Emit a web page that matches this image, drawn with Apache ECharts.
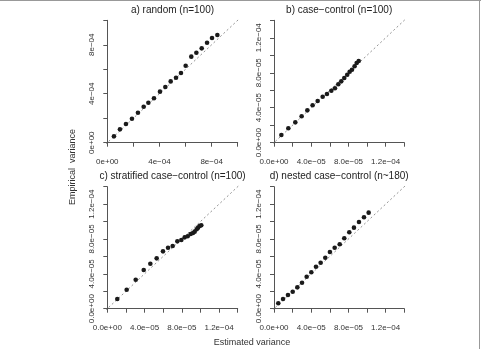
<!DOCTYPE html>
<html>
<head>
<meta charset="utf-8">
<script src="https://cdn.jsdelivr.net/npm/echarts@6/dist/echarts.min.js"></script>
<style>
html,body{margin:0;padding:0;background:#fff;}
#main{width:481px;height:349px;}
</style>
</head>
<body>
<div id="main"></div>
<script>
// a) random -- values in units of 1e-4
var aEst = [0.51, 0.97, 1.43, 1.89, 2.35, 2.79, 3.15, 3.58, 4.04, 4.45, 4.86, 5.27, 5.65, 6.01, 6.44, 6.83, 7.24, 7.65, 8.03, 8.44];
var aEmp = [0.52, 1.09, 1.53, 1.96, 2.45, 2.94, 3.27, 3.63, 4.17, 4.55, 5.01, 5.31, 5.69, 6.29, 7.03, 7.35, 7.71, 8.17, 8.55, 8.80];
// b) case-control -- units of 1e-5
var bEst = [0.79, 1.54, 2.29, 2.97, 3.58, 4.15, 4.69, 5.23, 5.69, 6.16, 6.55, 6.91, 7.23, 7.55, 7.87, 8.13, 8.38, 8.66, 8.88, 9.10];
var bEmp = [0.88, 1.65, 2.33, 3.02, 3.70, 4.28, 4.77, 5.26, 5.57, 5.95, 6.22, 6.68, 7.02, 7.40, 7.78, 8.12, 8.35, 8.74, 9.12, 9.34];
// c) stratified case-control -- units of 1e-5
var cEst = [1.07, 2.08, 3.05, 3.91, 4.62, 5.30, 5.98, 6.52, 7.02, 7.52, 7.95, 8.31, 8.63, 8.95, 9.20, 9.38, 9.60, 9.74, 9.92, 10.09];
var cEmp = [1.11, 2.18, 3.33, 4.44, 5.16, 5.78, 6.58, 7.00, 7.20, 7.73, 7.88, 8.19, 8.31, 8.57, 8.69, 8.84, 9.11, 9.30, 9.49, 9.57];
// d) nested case-control -- units of 1e-5
var dEst = [0.46, 0.97, 1.50, 2.01, 2.51, 3.01, 3.51, 4.01, 4.51, 5.01, 5.51, 6.01, 6.52, 7.06, 7.55, 8.09, 8.59, 9.13, 9.67, 10.17];
var dEmp = [0.62, 1.11, 1.57, 1.95, 2.45, 2.98, 3.67, 4.18, 4.82, 5.28, 5.85, 6.51, 7.00, 7.39, 8.08, 8.77, 9.30, 9.95, 10.49, 11.02];

var panelTitles = ['a) random (n=100)', 'b) case\u2212control (n=100)', 'c) stratified case\u2212control (n=100)', 'd) nested case\u2212control (n~180)'];

// tick labels
var bigTickVals = [0, 4, 8];
var bigTickText = ['0e+00', '4e\u221204', '8e\u221204'];
var smallTickVals = [0, 4, 8, 12];
var smallTickText = ['0.0e+00', '4.0e\u221205', '8.0e\u221205', '1.2e\u221204'];

var fontName = '"Liberation Sans", Arial, Helvetica, sans-serif';
var myChart = echarts.init(document.getElementById('main'));

var grids = [], xAxes = [], yAxes = [], series = [], titles = [];

function labelFn(vals, texts){
	return function(v){
		for(var i = 0; i < vals.length; i++){
			if(Math.abs(vals[i] - v) < 1e-6){
				return texts[i];
			}
		}
		return '';
	};
}

function addPanel(idx, pos, max, step, tickVals, tickText, est, emp){
	grids.push({left: pos[0], top: pos[1], width: pos[2], height: pos[3], containLabel: false});
	var axisCommon = {
		gridIndex: idx,
		type: 'value',
		min: 0,
		max: max,
		interval: step,
		splitLine: {show: false},
		axisLine: {show: true, lineStyle: {color: '#555', width: 1}},
		axisTick: {show: true, length: 4, lineStyle: {color: '#555', width: 1}},
		axisLabel: {
			fontSize: 8,
			color: '#333',
			fontFamily: fontName,
			showMinLabel: true,
			showMaxLabel: true
		}
	};
	var xa = echarts.util.clone(axisCommon);
	xa.axisLabel.formatter = labelFn(tickVals, tickText);
	xa.position = 'bottom';
	xa.offset = 0.04 * pos[3];
	xa.axisLabel.margin = 10;
	xAxes.push(xa);
	var ya = echarts.util.clone(axisCommon);
	ya.axisLabel.formatter = labelFn(tickVals, tickText);
	ya.position = 'left';
	ya.offset = 0.04 * pos[2];
	ya.axisLabel.rotate = 90;
	ya.axisLabel.margin = 6;
	yAxes.push(ya);

	// identity line over the whole plot region
	var lo = -0.04 * max, hi = 1.04 * max;
	series.push({
		type: 'line',
		xAxisIndex: idx,
		yAxisIndex: idx,
		data: [[lo, lo], [hi, hi]],
		showSymbol: false,
		clip: false,
		silent: true,
		z: 1,
		lineStyle: {color: '#777', width: 0.8, type: [2, 2.5]}
	});
	var pts = [];
	for(var i = 0; i < est.length; i++){
		pts.push([est[i], emp[i]]);
	}
	series.push({
		type: 'scatter',
		xAxisIndex: idx,
		yAxisIndex: idx,
		data: pts,
		symbolSize: 4.6,
		z: 3,
		itemStyle: {color: '#1a1a1a', opacity: 1}
	});
	titles.push({
		text: panelTitles[idx],
		left: pos[0] + pos[2] / 2,
		top: pos[1] - 15,
		textAlign: 'center',
		padding: 0,
		textStyle: {fontSize: 10, fontWeight: 'normal', color: '#222', fontFamily: fontName}
	});
}

addPanel(0, [107.3, 20.3, 130.4, 122.4], 10, 2, bigTickVals, bigTickText, aEst, aEmp);
addPanel(1, [274, 20.3, 130.3, 122.4], 14, 2, smallTickVals, smallTickText, bEst, bEmp);
addPanel(2, [107.3, 186.7, 130.4, 122], 14, 2, smallTickVals, smallTickText, cEst, cEmp);
addPanel(3, [274, 186.7, 130.3, 122], 14, 2, smallTickVals, smallTickText, dEst, dEmp);

var option = {
	backgroundColor: '#fff',
	animation: false,
	title: titles,
	grid: grids,
	xAxis: xAxes,
	yAxis: yAxes,
	series: series,
	graphic: [
		{
			type: 'text',
			x: 73, y: 167,
			rotation: Math.PI / 2,
			style: {text: 'Empirical  variance', fontSize: 9, fill: '#333', fontFamily: fontName, align: 'center', verticalAlign: 'middle'}
		},
		{
			type: 'text',
			x: 252, y: 343,
			style: {text: 'Estimated variance', fontSize: 9, fill: '#333', fontFamily: fontName, align: 'center', verticalAlign: 'middle'}
		},
		// figure frame (top and right edges)
		{type: 'line', shape: {x1: 0, y1: 0.5, x2: 481, y2: 0.5}, style: {stroke: '#999', lineWidth: 1}},
		{type: 'line', shape: {x1: 479.5, y1: 0, x2: 479.5, y2: 349}, style: {stroke: '#999', lineWidth: 1}}
	]
};
myChart.setOption(option);
</script>
</body>
</html>
